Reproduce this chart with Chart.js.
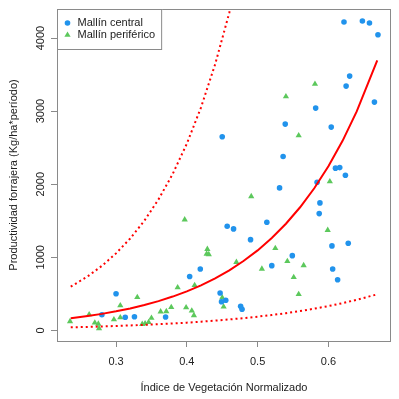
<!DOCTYPE html>
<html lang="es">
  <head>
    <meta charset="UTF-8" />
    <title>Productividad forrajera vs NDVI</title>
    <style>
      * {
        box-sizing: border-box;
        margin: 0;
        padding: 0;
      }
      body {
        background: #fff;
      }
    </style>
  </head>
  <body>
    <canvas id="chart" width="399" height="399"></canvas>

    <script src="https://cdn.jsdelivr.net/npm/chart.js"></script>
    <script>
      // Mallín central (puntos azules)
      const centralX = [
        0.622, 0.648, 0.658, 0.670, 0.630, 0.625, 0.665, 0.582, 0.450, 0.539,
        0.604, 0.536, 0.531, 0.610, 0.616, 0.624, 0.584, 0.588, 0.587, 0.457,
        0.466, 0.513, 0.490, 0.520, 0.605, 0.628, 0.549, 0.606, 0.613, 0.404,
        0.419, 0.447, 0.449, 0.455, 0.476, 0.478, 0.300, 0.280, 0.313, 0.326,
        0.370,
      ];
      const centralY = [
        4219, 4233, 4205, 4045, 3479, 3342, 3123, 3041, 2648, 2822,
        2781, 2378, 1949, 2219, 2227, 2123, 2027, 1744, 1597, 1425,
        1388, 1479, 1241, 885, 1155, 1192, 1022, 840, 693, 737,
        840, 511, 392, 411, 329, 288, 501, 214, 178, 186,
        182,
      ];

      // Mallín periférico (triángulos verdes)
      const perifX = [
        0.581, 0.540, 0.558, 0.602, 0.491, 0.397, 0.599, 0.525, 0.429, 0.428,
        0.431, 0.470, 0.542, 0.565, 0.506, 0.551, 0.558, 0.411, 0.387, 0.450,
        0.452, 0.378, 0.399, 0.407, 0.410, 0.330, 0.306, 0.235, 0.262, 0.270,
        0.275, 0.276, 0.297, 0.306, 0.337, 0.341, 0.346, 0.350, 0.363, 0.371,
      ];
      const perifY = [
        3370, 3200, 2666, 2036, 1833, 1514, 1370, 1123, 1110, 1045,
        1038, 932, 945, 888, 840, 726, 493, 616, 586, 447,
        322, 315, 312, 268, 205, 452, 340, 123, 216, 104,
        89, 27, 148, 175, 84, 93, 110, 168, 255, 260,
      ];

      // curvas
      const curveX = [
        0.236, 0.26, 0.28, 0.30, 0.32, 0.34, 0.36, 0.38, 0.40, 0.42, 0.44,
        0.46, 0.48, 0.50, 0.52, 0.54, 0.56, 0.58, 0.60, 0.62, 0.64, 0.669,
      ];
      const fitY = [
        164, 195, 225, 260, 300, 346, 400, 462, 533, 616, 711,
        821, 948, 1094, 1264, 1459, 1684, 1944, 2245, 2593, 2996, 3693,
      ];
      const lowerY = [
        41, 47, 53, 59, 67, 75, 84, 94, 105, 118, 133,
        149, 167, 187, 210, 235, 264, 296, 332, 372, 418, 493,
      ];
      const upperX = [
        0.236, 0.26, 0.28, 0.30, 0.32, 0.34, 0.36, 0.38, 0.40, 0.42, 0.44,
        0.46, 0.48,
      ];
      const upperY = [
        597, 739, 882, 1053, 1257, 1500, 1792, 2139, 2554, 3049, 3640,
        4347, 5188,
      ];

      const xTicks = [0.3, 0.4, 0.5, 0.6];
      const yTicks = [0, 1000, 2000, 3000, 4000];

      const blue = "#2193ec";
      const green = "#5cc85c";
      const gray = "#8a8a8a";
      const fontFamily = "'Liberation Sans', Arial, sans-serif";

      const toPoints = (xs, ys) => xs.map((x, i) => ({ x: x, y: ys[i] }));

      // caja alrededor del área de dibujo + etiquetas del eje y giradas + leyenda
      const rStyle = {
        id: "rStyle",
        afterDraw(chart) {
          const ctx = chart.ctx;
          const a = chart.chartArea;
          ctx.save();
          ctx.strokeStyle = gray;
          ctx.lineWidth = 1;
          ctx.strokeRect(a.left - 0.5, a.top + 0.5, a.right - a.left + 1, a.bottom - a.top);

          // etiquetas del eje y
          const yScale = chart.scales.y;
          ctx.fillStyle = "#222";
          ctx.font = "11px " + fontFamily;
          ctx.textAlign = "center";
          ctx.textBaseline = "alphabetic";
          yScale.ticks.forEach((t) => {
            const py = yScale.getPixelForValue(t.value);
            ctx.save();
            ctx.translate(44, py);
            ctx.rotate(-Math.PI / 2);
            ctx.fillText(String(t.value), 0, 0);
            ctx.restore();
          });

          // leyenda
          const labels = ["Mallín central", "Mallín periférico"];
          const left = a.left;
          const top = a.top;
          const textX = left + 19.5;
          let maxW = 0;
          labels.forEach((l) => (maxW = Math.max(maxW, ctx.measureText(l).width)));
          const boxW = textX + maxW + 7 - left;
          ctx.fillStyle = "#fff";
          ctx.fillRect(left, top, boxW, 40);
          ctx.strokeStyle = gray;
          ctx.strokeRect(left - 0.5, top + 0.5, boxW, 40);
          const rows = [23, 35];
          ctx.fillStyle = blue;
          ctx.beginPath();
          ctx.arc(left + 9.5, rows[0], 2.8, 0, Math.PI * 2);
          ctx.fill();
          ctx.fillStyle = green;
          ctx.beginPath();
          const r = 3.6;
          ctx.moveTo(left + 9.5, rows[1] - r);
          ctx.lineTo(left + 9.5 + r * 0.866, rows[1] + r / 2);
          ctx.lineTo(left + 9.5 - r * 0.866, rows[1] + r / 2);
          ctx.closePath();
          ctx.fill();
          ctx.fillStyle = "#222";
          ctx.textAlign = "left";
          ctx.textBaseline = "middle";
          labels.forEach((l, i) => ctx.fillText(l, textX, rows[i]));
          ctx.restore();
        },
      };

      new Chart(document.getElementById("chart"), {
        type: "scatter",
        data: {
          datasets: [
            {
              label: "Ajuste",
              type: "line",
              data: toPoints(curveX, fitY),
              borderColor: "#ff0000",
              borderWidth: 2,
              pointRadius: 0,
              tension: 0,
              order: 0,
            },
            {
              label: "Límite superior",
              type: "line",
              data: toPoints(upperX, upperY),
              borderColor: "#ff0000",
              borderWidth: 2,
              borderDash: [2, 3],
              pointRadius: 0,
              tension: 0,
              order: 0,
            },
            {
              label: "Límite inferior",
              type: "line",
              data: toPoints(curveX, lowerY),
              borderColor: "#ff0000",
              borderWidth: 2,
              borderDash: [2, 3],
              pointRadius: 0,
              tension: 0,
              order: 0,
            },
            {
              label: "Mallín central",
              data: toPoints(centralX, centralY),
              backgroundColor: blue,
              borderWidth: 0,
              pointStyle: "circle",
              pointRadius: 2.8,
              order: 1,
            },
            {
              label: "Mallín periférico",
              data: toPoints(perifX, perifY),
              backgroundColor: green,
              borderWidth: 0,
              pointStyle: "triangle",
              pointRadius: 3.6,
              order: 1,
            },
          ],
        },
        options: {
          responsive: false,
          animation: false,
          events: [],
          layout: { padding: { top: 9, right: 9, left: 0, bottom: 0 } },
          plugins: {
            legend: { display: false },
            tooltip: { enabled: false },
          },
          scales: {
            x: {
              type: "linear",
              min: 0.218,
              max: 0.687,
              afterBuildTicks: (s) => {
                s.ticks = xTicks.map((v) => ({ value: v }));
              },
              afterFit: (s) => {
                s.height = 58;
              },
              grid: {
                drawOnChartArea: false,
                drawTicks: true,
                tickLength: 6,
                color: gray,
              },
              border: { display: false },
              ticks: {
                padding: 8,
                color: "#222",
                maxRotation: 0,
                font: { family: fontFamily, size: 11 },
                callback: (v) => v.toFixed(1),
              },
              title: {
                display: true,
                text: "Índice de Vegetación Normalizado",
                color: "#222",
                font: { family: fontFamily, size: 11 },
                padding: { top: 0, bottom: 4 },
              },
            },
            y: {
              type: "linear",
              min: -146,
              max: 4397,
              afterBuildTicks: (s) => {
                s.ticks = yTicks.map((v) => ({ value: v }));
              },
              afterFit: (s) => {
                s.width = 58;
              },
              grid: {
                drawOnChartArea: false,
                drawTicks: true,
                tickLength: 7,
                color: gray,
              },
              border: { display: false },
              ticks: { display: false },
              title: {
                display: true,
                text: "Productividad forrajera (Kg/ha*período)",
                color: "#222",
                font: { family: fontFamily, size: 11 },
                padding: { top: 7, bottom: 0 },
              },
            },
          },
        },
        plugins: [rStyle],
      });
    </script>
  </body>
</html>
